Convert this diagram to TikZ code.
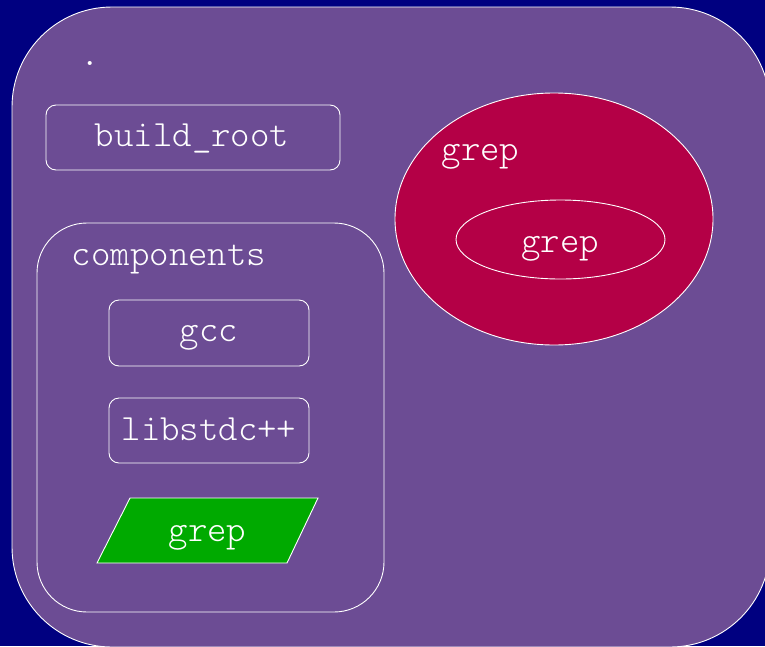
\documentclass[tikz,border=0pt]{standalone}
\usepackage{fontspec}
\newfontfamily\lightmono{Latin Modern Mono Light}
\usetikzlibrary{shapes.geometric}
\definecolor{pageblue}{HTML}{000080}
\definecolor{clusterpurple}{HTML}{6C4C94}
\definecolor{grepred}{HTML}{B40046}
\definecolor{grepgreen}{HTML}{00AA00}
\tikzset{
  outline/.style={draw=white, line width=0.9pt},
  label/.style={text=white, font=\lightmono\fontsize{37}{42}\selectfont, inner sep=0pt, anchor=base},
  leafbox/.style={outline, rectangle, rounded corners=10pt, inner sep=0pt},
}
\begin{document}
\begin{tikzpicture}[x=1pt, y=-1pt]
  % page background and clipping window
  \fill[pageblue] (0,0) rectangle (765,646);
  \clip (0,0) rectangle (765,646);
  \useasboundingbox (0,0) rectangle (765,646);

  % outer cluster "."
  \node[outline, fill=clusterpurple, rectangle, rounded corners=100pt, inner sep=0pt,
        minimum width=758pt, minimum height=640pt] (root) at (391,327) {};
  \node[label] (rootlabel) at (90,65.5) {.};

  % build_root
  \node[leafbox, minimum width=294pt, minimum height=65pt] (buildroot) at (193,137.5) {};
  \node[label] (buildroottext) at (192,146) {build\_root};

  % components cluster
  \node[outline, rectangle, rounded corners=50pt, inner sep=0pt,
        minimum width=347pt, minimum height=389pt] (components) at (210.5,417.5) {};
  \node[label] (componentslabel) at (169,265) {components};

  \node[leafbox, minimum width=200pt, minimum height=66pt] (gcc) at (209,333) {};
  \node[label] (gcctext) at (209,341.7) {gcc};

  \node[leafbox, minimum width=200pt, minimum height=65pt] (libstdcxx) at (209,430.5) {};
  \node[label] (libstdcxxtext) at (209,440) {libstdc++};

  % grep inside components (parallelogram)
  \coordinate (pa) at (130,498);
  \coordinate (pb) at (318,498);
  \coordinate (pc) at (287,563);
  \coordinate (pd) at (97,563);
  \draw[outline, fill=grepgreen] (pa) -- (pb) -- (pc) -- (pd) -- cycle;
  \node[label] (grepgreentext) at (207.5,541.7) {grep};

  % grep cluster (ellipse)
  \node[outline, fill=grepred, ellipse, inner sep=0pt,
        minimum width=318pt, minimum height=252pt] (grepcluster) at (554,219) {};
  \node[label] (grepclusterlabel) at (480.5,160) {grep};
  \node[outline, ellipse, inner sep=0pt,
        minimum width=209pt, minimum height=79pt] (grepinner) at (560.5,239.5) {};
  \node[label] (grepinnertext) at (560,252.7) {grep};
\end{tikzpicture}
\end{document}
